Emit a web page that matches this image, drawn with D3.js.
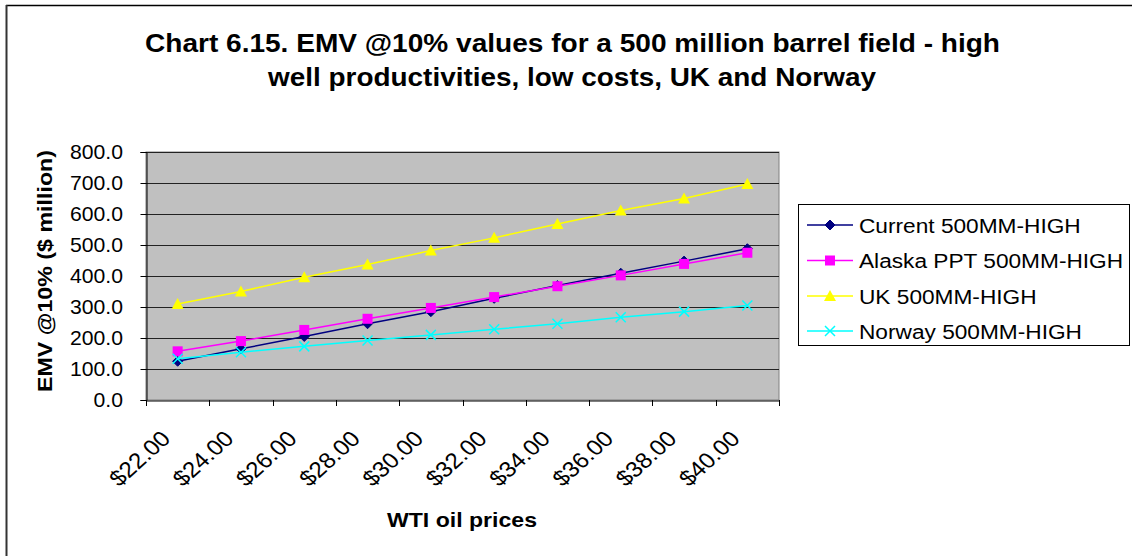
<!DOCTYPE html>
<html><head><meta charset="utf-8">
<script src="https://cdn.jsdelivr.net/npm/d3@7"></script>
<style>body{margin:0;background:#fff;}svg{display:block;font-family:Arial,"Liberation Sans",sans-serif;}</style>
</head><body><svg id="c" width="1132" height="556"></svg>
<script>
const categories = ["$22.00","$24.00","$26.00","$28.00","$30.00","$32.00","$34.00","$36.00","$38.00","$40.00"];
const current = [125,165,205,246,285,328,369,409,448,488];
const alaska = [157,190,226,262,297,332,367,402,439,475];
const uk = [310,350,396,437,482,523,568,611,650,697];
const norway = [133,154,173,192,210,228,246,267,285,305];
const yTicks = [0,100,200,300,400,500,600,700,800];
const seriesNames = ["Current 500MM-HIGH","Alaska PPT 500MM-HIGH","UK 500MM-HIGH","Norway 500MM-HIGH"];
const seriesColors = ["#000080","#FF00FF","#FFFF00","#00FFFF"];
const seriesMarkers = ["diamond","square","triangle","x"];
const seriesValues = [current, alaska, uk, norway];

const svg = d3.select("#c");
// outer border
svg.append("line").attr("x1",6).attr("x2",1132).attr("y1",5.5).attr("y2",5.5).attr("stroke","#000").attr("stroke-width",1.5);
svg.append("line").attr("x1",6.5).attr("x2",6.5).attr("y1",5).attr("y2",556).attr("stroke","#333").attr("stroke-width",2);

const L=146, R=779, T=152, B=400;
const x = d3.scaleBand().domain(categories).range([L,R]);
const y = d3.scaleLinear().domain([0,800]).range([B,T]);

svg.append("rect").attr("x",L).attr("y",T).attr("width",R-L).attr("height",B-T).attr("fill","#C0C0C0").attr("stroke","#808080").attr("stroke-width",1);
// grid
svg.append("g").selectAll("line").data(yTicks.filter(d=>d>0)).join("line")
  .attr("x1",L).attr("x2",R).attr("y1",d=>Math.round(y(d))+0.5).attr("y2",d=>Math.round(y(d))+0.5)
  .attr("stroke","#222").attr("stroke-width",1);

// y axis
const ya = svg.append("g").attr("transform",`translate(${L+0.5},0)`)
  .call(d3.axisLeft(y).tickValues(yTicks).tickFormat("").tickSize(6));
ya.select(".domain").attr("stroke","#000");
ya.selectAll(".tick line").attr("stroke","#000");
svg.append("g").selectAll("text").data(yTicks).join("text")
  .attr("transform",d=>`translate(123,${y(d)}) scale(1.06,1)`)
  .attr("text-anchor","end").attr("dy","0.36em").attr("font-size",20).attr("fill","#000")
  .text(d=>d.toFixed(1));

// x axis
const xa = svg.append("g").attr("transform",`translate(0,${B+0.5})`)
  .call(d3.axisBottom(x).tickSize(0).tickFormat(""));
xa.select(".domain").attr("stroke","#000");
const bounds = categories.map(c=>x(c)).concat([R]);
svg.append("g").selectAll("line").data(bounds).join("line")
  .attr("x1",d=>Math.round(d)+0.5).attr("x2",d=>Math.round(d)+0.5).attr("y1",B).attr("y2",B+6).attr("stroke","#000");
svg.append("g").selectAll("text").data(categories).join("text")
  .attr("transform",d=>`translate(${x(d)+x.bandwidth()/2-6},440) scale(1.1,1) rotate(-45)`)
  .attr("text-anchor","end").attr("font-size",22).attr("fill","#000").text(d=>d);

// series
const cx = c=>x(c)+x.bandwidth()/2;
const line = d3.line().x((d,i)=>cx(categories[i])).y(d=>y(d));
function marker(g, type, color, px, py){
  if(type==="diamond"){
    g.append("path").attr("d",`M${px},${py-5}L${px+5},${py}L${px},${py+5}L${px-5},${py}Z`).attr("fill",color).attr("stroke",color);
  } else if(type==="square"){
    g.append("rect").attr("x",px-5).attr("y",py-5).attr("width",10).attr("height",10).attr("fill",color);
  } else if(type==="triangle"){
    g.append("path").attr("d",`M${px},${py-6}L${px+6},${py+5}L${px-6},${py+5}Z`).attr("fill",color);
  } else {
    g.append("path").attr("d",`M${px-5},${py-5}L${px+5},${py+5}M${px-5},${py+5}L${px+5},${py-5}`).attr("stroke",color).attr("stroke-width",1.5).attr("fill","none");
  }
}
seriesValues.forEach((vals,si)=>{
  const g = svg.append("g");
  g.append("path").datum(vals).attr("d",line).attr("fill","none").attr("stroke",seriesColors[si]).attr("stroke-width",1.5);
  vals.forEach((v,i)=>marker(g, seriesMarkers[si], seriesColors[si], cx(categories[i]), y(v)));
});

// titles
svg.append("text").attr("x",572.5).attr("y",52).attr("text-anchor","middle").attr("font-weight","bold").attr("font-size",25).attr("fill","#000")
  .attr("textLength",855).attr("lengthAdjust","spacingAndGlyphs").text("Chart 6.15. EMV @10% values for a 500 million barrel field - high");
svg.append("text").attr("x",572).attr("y",86).attr("text-anchor","middle").attr("font-weight","bold").attr("font-size",25).attr("fill","#000")
  .attr("textLength",608).attr("lengthAdjust","spacingAndGlyphs").text("well productivities, low costs, UK and Norway");
svg.append("text").attr("transform","translate(52,271) rotate(-90)").attr("text-anchor","middle")
  .attr("font-weight","bold").attr("font-size",21).attr("fill","#000")
  .attr("textLength",242).attr("lengthAdjust","spacingAndGlyphs").text("EMV @10% ($ million)");
svg.append("text").attr("x",462).attr("y",527).attr("text-anchor","middle")
  .attr("font-weight","bold").attr("font-size",21).attr("fill","#000")
  .attr("textLength",150).attr("lengthAdjust","spacingAndGlyphs").text("WTI oil prices");

// legend
svg.append("rect").attr("x",798.5).attr("y",204.5).attr("width",331).attr("height",141).attr("fill","#fff").attr("stroke","#000");
const legY = [225,260.5,296,331];
seriesNames.forEach((n,i)=>{
  const g = svg.append("g");
  g.append("line").attr("x1",807).attr("x2",853).attr("y1",legY[i]).attr("y2",legY[i]).attr("stroke",seriesColors[i]).attr("stroke-width",1.5);
  marker(g, seriesMarkers[i], seriesColors[i], 830, legY[i]);
  g.append("text").attr("transform",`translate(859,${legY[i]}) scale(1.08,1)`).attr("dy","0.36em").attr("font-size",21).attr("fill","#000").text(n);
});
</script></body></html>
